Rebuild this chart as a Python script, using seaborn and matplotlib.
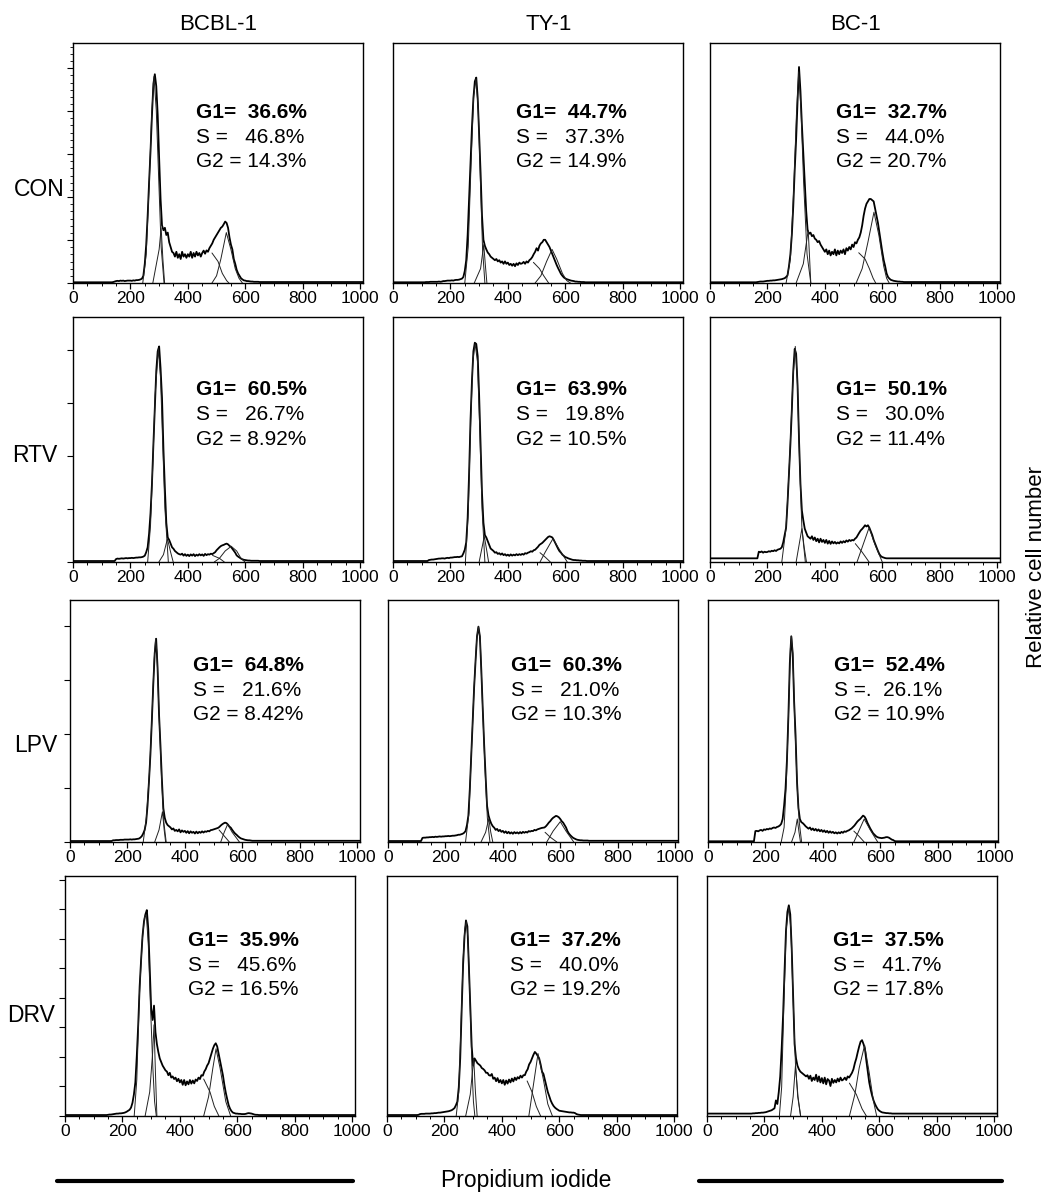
import matplotlib
matplotlib.use("Agg")
import matplotlib.pyplot as plt
import pandas as pd
import seaborn as sns
from matplotlib.ticker import MultipleLocator, NullLocator
from matplotlib.lines import Line2D

# ---------------- data ----------------
CELL_LINES = ["BCBL-1", "TY-1", "BC-1"]
TREATMENTS = ["CON", "RTV", "LPV", "DRV"]
CHANNELS = list(range(100, 705, 5))          # 121 channels, PI fluorescence
X_TICKS = [0, 200, 400, 600, 800, 1000]

G1_LABELS = ["36.6%", "44.7%", "32.7%", "60.5%", "63.9%", "50.1%",
             "64.8%", "60.3%", "52.4%", "35.9%", "37.2%", "37.5%"]
S_LABELS = ["46.8%", "37.3%", "44.0%", "26.7%", "19.8%", "30.0%",
            "21.6%", "21.0%", "26.1%", "45.6%", "40.0%", "41.7%"]
S_PREFIX = ["S =   "] * 8 + ["S =.  "] + ["S =   "] * 3
G2_LABELS = ["14.3%", "14.9%", "20.7%", "8.92%", "10.5%", "11.4%",
             "8.42%", "10.3%", "10.9%", "16.5%", "19.2%", "17.8%"]

# histograms (relative cell number, % of panel height), channels 100..700 step 5
HIST_CON_BCBL1 = [
    0.3, 0.3, 0.3, 0.3, 0.3, 0.3, 0.3, 0.3, 0.4, 0.6,
    0.8, 0.9, 0.8, 1.0, 0.9, 1.0, 0.8, 0.9, 1.0, 1.0,
    1.0, 0.9, 1.1, 1.0, 1.2, 1.2, 1.3, 1.5, 1.8, 3.0,
    8, 16, 28, 42, 55, 70, 83, 87, 82, 70,
    52, 35, 24, 22, 23, 20, 21, 17, 15, 13,
    12.5, 11, 13, 10.5, 12, 10, 13, 11, 12, 10.5,
    12, 11, 13, 10.5, 12.5, 11, 13, 11.5, 12.5, 11,
    12.5, 13.5, 12.2, 13.6, 13, 14.5, 15.5, 16.5, 18, 19,
    20, 21, 22, 23, 23.5, 24.5, 25.6, 25, 23, 19,
    16, 14, 10, 8, 5.5, 4, 3, 2, 1.5, 1.1,
    1.0, 0.8, 0.8, 0.7, 0.6, 0.6, 0.5, 0.5, 0.5, 0.5,
    0.4, 0.4, 0.4, 0.4, 0.4, 0.4, 0.4, 0.4, 0.4, 0.4,
    0.4]
HIST_CON_TY1 = [
    0.3, 0.3, 0.3, 0.4, 0.4, 0.4, 0.5, 0.5, 0.5, 0.5,
    0.5, 0.5, 0.6, 0.5, 0.6, 0.8, 0.8, 0.9, 1.0, 1.0,
    1.0, 1.1, 1.0, 1.2, 1.3, 1.3, 1.4, 1.6, 1.8, 2.5,
    5, 9.5, 20, 35, 50, 65, 77, 84, 85.6, 77,
    62, 46, 28, 18, 15.5, 14, 12.7, 12, 11, 10.5,
    10, 9.5, 10, 9, 9.5, 8.5, 9, 8, 9, 8,
    8.5, 7.5, 8, 7.2, 8, 7, 8.2, 7.5, 8.5, 8,
    8.2, 8.8, 8, 9, 8.5, 9.5, 10, 10.8, 12, 13,
    14.5, 13.5, 15.5, 16.5, 17, 18, 18, 17, 16, 15,
    13.5, 12, 10.5, 9, 7.5, 6.2, 5, 3.8, 3, 2.3,
    1.9, 1.6, 1.4, 1.2, 1.0, 0.9, 0.8, 0.6, 0.6, 0.5,
    0.5, 0.4, 0.4, 0.4, 0.3, 0.3, 0.3, 0.3, 0.3, 0.3,
    0.3]
HIST_CON_BC1 = [
    0.3, 0.3, 0.3, 0.3, 0.3, 0.3, 0.3, 0.3, 0.3, 0.3,
    0.3, 0.3, 0.3, 0.4, 0.5, 0.6, 0.6, 0.6, 0.7, 0.8,
    0.9, 0.9, 1.0, 1.0, 1.1, 1.1, 1.2, 1.3, 1.4, 1.5,
    1.6, 1.8, 2.0, 2.5, 3.2, 7, 12, 20, 32, 47,
    60, 76, 90, 80, 66, 54, 42, 30, 22, 20.5,
    21, 19.5, 20, 18.5, 18, 17, 17.5, 16, 15, 14,
    13, 14, 12, 13.5, 11.5, 13, 12, 14, 11.5, 13.5,
    12, 13.5, 12.5, 14, 12, 14.5, 13.5, 15, 14, 16,
    15, 17, 16.5, 18, 19, 21, 24, 28, 31, 33,
    34, 35, 35, 34.5, 34, 31, 28, 25, 21, 17,
    13, 9.5, 7, 4, 2.5, 1.8, 1.3, 1.1, 0.9, 0.8,
    0.7, 0.6, 0.6, 0.5, 0.5, 0.4, 0.4, 0.4, 0.4, 0.4,
    0.4]
HIST_RTV_BCBL1 = [
    0.4, 0.4, 0.4, 0.4, 0.4, 0.4, 0.4, 0.4, 0.4, 0.4,
    1.2, 1.4, 1.3, 1.4, 1.5, 1.4, 1.5, 1.6, 1.5, 1.6,
    1.6, 1.7, 1.6, 1.7, 1.8, 1.8, 1.9, 1.9, 2.0, 2.2,
    2.6, 4, 6, 11.6, 20, 32, 48, 63, 78, 86,
    88, 79, 67, 46, 30, 16, 10, 9, 7.5, 6,
    5.4, 4.5, 4, 3.5, 3.2, 3, 3.4, 2.6, 3.2, 2.5,
    3, 2.4, 3.1, 2.6, 3.2, 2.4, 3, 2.6, 3.2, 2.7,
    3.1, 2.5, 3.3, 2.8, 3.2, 3, 3.4, 3.2, 3.6, 4,
    4.8, 5.4, 6, 6.5, 6.8, 7, 7.3, 7.5, 7.2, 6.6,
    6.2, 5.4, 4.6, 3.8, 2.7, 2.2, 1.8, 1.4, 1.1, 0.9,
    0.8, 0.7, 0.6, 0.6, 0.5, 0.5, 0.5, 0.5, 0.5, 0.5,
    0.4, 0.4, 0.4, 0.4, 0.4, 0.4, 0.4, 0.4, 0.4, 0.4,
    0.4]
HIST_RTV_TY1 = [
    0.4, 0.4, 0.4, 0.4, 0.4, 0.8, 0.9, 1.0, 1.0, 1.1,
    1.2, 1.3, 1.4, 1.4, 1.5, 1.5, 1.4, 1.6, 1.7, 1.6,
    1.8, 1.8, 1.9, 2.0, 2.0, 2.1, 2.0, 2.2, 2.3, 3.5,
    5, 8, 18, 36, 58, 74, 86, 89.5, 89, 84,
    68, 48, 28, 16, 11, 10, 8.5, 7, 5.5, 5,
    4.5, 3.8, 4, 3.3, 3.6, 3, 3.5, 2.8, 3.2, 2.6,
    3, 2.5, 3.1, 2.6, 3, 2.7, 3.2, 2.8, 3.2, 2.9,
    3.3, 3, 3.6, 3.4, 3.8, 4, 4.4, 4.2, 4.8, 5,
    5.6, 6.2, 7, 7.4, 7.8, 8.4, 9, 9.6, 10.2, 10.5,
    10.3, 10, 9, 7.8, 6.6, 5.4, 4.4, 3.8, 3, 2.5,
    2.0, 1.8, 1.5, 1.3, 1.1, 0.9, 0.8, 0.8, 0.7, 0.7,
    0.6, 0.6, 0.5, 0.5, 0.5, 0.4, 0.4, 0.4, 0.4, 0.4,
    0.4]
HIST_RTV_BC1 = [
    1.5, 1.5, 1.5, 1.5, 1.5, 1.5, 1.5, 1.5, 1.5, 1.5,
    1.5, 1.5, 1.5, 1.5, 4.2, 4, 4.3, 3.8, 4.2, 4,
    4.1, 4.4, 4.2, 4.6, 4.4, 4.8, 4.5, 5, 5.2, 5.4,
    6, 8, 11, 14, 24, 36, 48, 62, 78, 87,
    85, 72, 50, 32, 21, 17, 13.6, 12, 10.5, 10,
    9.5, 10.5, 9, 10, 8.5, 9.5, 8, 9.5, 8.2, 9,
    7.8, 9, 7.5, 8.6, 7.4, 8.4, 7.6, 8.2, 7.5, 8,
    7.6, 8.4, 7.8, 8.5, 8, 8.8, 8.3, 9, 8.6, 9,
    8.8, 9.5, 10, 11, 12, 12.9, 13.5, 14.2, 15, 14.5,
    15, 14, 12.5, 11, 9, 7.5, 6, 4.5, 3.2, 2.4,
    2, 1.8, 1.6, 1.5, 1.5, 1.5, 1.5, 1.5, 1.5, 1.5,
    1.5, 1.5, 1.5, 1.5, 1.5, 1.5, 1.5, 1.5, 1.5, 1.5,
    1.5]
HIST_LPV_BCBL1 = [
    0.4, 0.4, 0.4, 0.4, 0.4, 0.4, 0.4, 0.4, 0.4, 0.4,
    0.7, 0.7, 0.8, 0.8, 0.8, 0.9, 0.9, 0.9, 1.0, 1.0,
    1.0, 1.0, 1.1, 1.0, 1.1, 1.1, 1.2, 1.3, 1.4, 1.8,
    2.4, 3.5, 5, 8, 15, 25, 36, 50, 65, 78,
    84, 72, 53, 40, 26, 14, 10, 8, 7, 6.5,
    6, 5.2, 5.6, 4.6, 5, 4.4, 5.2, 4, 4.8, 4.2,
    4.6, 3.8, 4.5, 3.6, 4.4, 3.8, 4.2, 3.5, 4.3, 3.6,
    4.2, 3.8, 4.4, 3.9, 4.4, 4.2, 4.6, 4.4, 4.9, 5.0,
    5.2, 5.4, 5.6, 5.8, 6.2, 6.8, 7.3, 7.7, 8, 7.8,
    7.2, 6.4, 5.9, 5, 4.2, 3.5, 3, 2.4, 1.9, 1.5,
    1.3, 1.1, 0.9, 0.8, 0.7, 0.7, 0.6, 0.5, 0.5, 0.5,
    0.5, 0.5, 0.5, 0.5, 0.5, 0.5, 0.5, 0.5, 0.5, 0.5,
    0.5]
HIST_LPV_TY1 = [
    0.4, 0.4, 0.4, 0.4, 1.7, 1.8, 1.8, 1.9, 1.9, 2.0,
    2.0, 2.1, 2.0, 2.2, 2.1, 2.2, 2.3, 2.2, 2.3, 2.3,
    2.4, 2.4, 2.5, 2.4, 2.5, 2.6, 2.6, 2.7, 2.8, 3.0,
    3, 3.2, 3.4, 3.8, 4.5, 7, 11, 22, 36, 50,
    64, 75, 85, 89, 85, 71, 55, 40, 27, 15,
    11, 9, 7.5, 6.5, 5.9, 5, 5.4, 4.5, 5, 4.2,
    4.6, 3.8, 4.4, 3.6, 4.2, 3.5, 4, 3.4, 4.1, 3.6,
    4, 3.5, 4.1, 3.6, 4.2, 3.8, 4.2, 3.9, 4.5, 4.3,
    4.6, 4.5, 5, 4.8, 5.2, 5.4, 5.6, 5.8, 5.9, 6,
    6.5, 7.2, 8, 8.6, 9.4, 10, 10.4, 10.8, 10.6, 10.2,
    9.5, 8.6, 8, 7, 6, 4.5, 3.5, 2.8, 2.2, 1.7,
    1.4, 1.1, 0.9, 0.8, 0.7, 0.7, 0.6, 0.6, 0.6, 0.6,
    0.5]
HIST_LPV_BC1 = [
    0.3, 0.3, 0.3, 0.3, 0.3, 0.3, 0.3, 0.3, 0.3, 0.3,
    0.3, 0.3, 0.3, 4.5, 4.6, 4.4, 4.8, 5, 4.6, 5.2,
    5, 5.4, 5.2, 5.6, 5.4, 5.8, 6, 5.8, 6.2, 6.4,
    6.8, 7.5, 9.5, 15, 22, 34, 52, 74, 85, 78,
    58, 44, 25, 14, 9.5, 8.2, 7.8, 7.2, 6.5, 6,
    5.5, 6, 5, 5.6, 4.8, 5.4, 4.6, 5.2, 4.4, 5,
    4.2, 4.8, 4, 4.6, 3.8, 4.4, 3.8, 4.2, 3.6, 4,
    3.5, 4, 3.6, 4.2, 3.8, 4.4, 4.2, 4.6, 4.8, 5.2,
    5.6, 6.2, 6.8, 7.6, 8.4, 9, 9.5, 10.2, 10.9, 10.5,
    9.5, 8, 6.8, 5.6, 4.6, 3.6, 3, 2.4, 2, 1.8,
    1.7, 1.6, 1.7, 1.8, 2, 2, 1.8, 1.4, 1, 0.8,
    0.4, 0.3, 0.3, 0.3, 0.3, 0.3, 0.3, 0.3, 0.3, 0.3,
    0.3]
HIST_DRV_BCBL1 = [
    0.4, 0.4, 0.4, 0.4, 0.4, 0.4, 0.4, 0.4, 0.4, 0.4,
    0.5, 0.6, 0.6, 0.7, 0.8, 0.9, 1.0, 1.0, 1.1, 1.1,
    1.2, 1.3, 1.5, 1.8, 2.2, 2.6, 3.5, 5.5, 9, 14,
    25, 38, 54, 65, 75, 81, 84, 85.8, 78, 62,
    45, 40, 46, 35, 30, 26.7, 24, 22.5, 21, 20,
    19, 18.5, 17, 18, 16, 16.5, 15.4, 16, 14.5, 15.5,
    14, 15, 13, 15, 12.8, 14.4, 13.2, 15, 13.5, 14.8,
    13.6, 15.2, 14.6, 16, 15.4, 17, 16.8, 18.5, 19.5, 21,
    22, 24, 26, 28, 29.5, 30.3, 29, 26, 23, 20,
    17, 13, 9.7, 7, 4.5, 3, 2, 1.4, 1.2, 1,
    1, 0.9, 0.9, 0.8, 0.8, 0.8, 0.9, 1.1, 1.2, 1.1,
    1.0, 0.8, 0.6, 0.5, 0.5, 0.4, 0.4, 0.4, 0.4, 0.4,
    0.4]
HIST_DRV_TY1 = [
    0.4, 0.4, 0.5, 0.8, 0.9, 0.9, 0.9, 1.0, 1.0, 1.0,
    1.0, 1.1, 1.1, 1.2, 1.2, 1.3, 1.4, 1.4, 1.5, 1.6,
    1.7, 1.8, 1.9, 2.0, 2.2, 2.4, 2.8, 3.3, 4.5, 6,
    12, 24, 44, 63, 75, 81.5, 79, 63, 46, 29,
    21, 24, 23, 22, 21.5, 21, 20, 19.6, 19, 18,
    18, 17, 16.8, 17.5, 15.5, 16, 14.5, 15.8, 14, 15,
    13.6, 15, 13, 14.8, 13.5, 15.2, 14, 15.6, 14.4, 16,
    15, 16.2, 15.6, 16.8, 16, 17, 17, 18.5, 19.5, 21.5,
    22.5, 24, 25.5, 26.7, 26, 25, 24, 21.5, 18.5, 17.5,
    15, 12.5, 10, 8.3, 6.5, 5.2, 4.2, 3.5, 3, 2.6,
    2.2, 2.1, 2, 1.9, 1.8, 1.7, 1.6, 1.5, 1.5, 1.4,
    1.4, 1.2, 0.8, 0.6, 0.5, 0.4, 0.4, 0.4, 0.4, 0.4,
    0.4]
HIST_DRV_BC1 = [
    1.0, 1.0, 1.0, 1.0, 1.0, 1.0, 1.0, 1.0, 1.0, 1.0,
    1.0, 1.0, 1.1, 1.1, 1.2, 1.2, 1.3, 1.3, 1.4, 1.4,
    1.5, 1.6, 1.8, 2.0, 2.2, 2.4, 2.8, 3.2, 6.5, 5,
    10, 16.5, 28, 42, 60, 77, 85, 87.8, 84, 70,
    50, 30, 24, 21, 19.5, 18.5, 18, 17.5, 17, 16.5,
    17, 15.5, 16.8, 14.6, 16, 15, 17.2, 14.4, 16.5, 14,
    15.8, 13.6, 16, 13.2, 15.4, 14.8, 12.5, 15.5, 13.8, 15,
    14, 15.6, 14.4, 16, 14.8, 15.2, 16, 15, 16.5, 16,
    17, 18, 19.5, 22, 24, 26.6, 29, 31, 31.6, 30,
    28, 23, 18.5, 14, 11, 8.5, 6.5, 5, 3.8, 2.8,
    2.2, 1.8, 1.5, 1.4, 1.3, 1.2, 1.2, 1.1, 1.1, 1.0,
    1.0, 1.0, 1.0, 1.0, 1.0, 1.0, 1.0, 1.0, 1.0, 1.0,
    1.0]

# fitted components: G1 peak, S-phase edges, G2 peak
FIT_CON_BCBL1 = [
    [(243, 0), (255, 12), (265, 40), (274, 70), (282, 86), (290, 72), (298, 45), (307, 15), (317, 0)],
    [(278, 0), (300, 14), (307, 23), (313, 10), (319, 0)],
    [(484, 12.5), (505, 9), (520, 4), (535, 1), (543, 0)],
    [(484, 0), (500, 3), (515, 10), (534, 21), (550, 14), (565, 6), (578, 2), (590, 0)]]
FIT_CON_TY1 = [
    [(250, 0), (262, 15), (272, 50), (281, 78), (289, 85), (297, 72), (305, 40), (312, 14), (320, 0)],
    [(283, 0), (305, 6), (316, 16), (322, 7), (327, 0)],
    [(489, 8.6), (510, 6), (525, 3), (542, 0)],
    [(495, 0), (515, 3), (535, 9), (554, 14), (570, 10), (590, 4), (605, 1), (618, 0)]]
FIT_CON_BC1 = [
    [(265, 0), (280, 10), (292, 40), (301, 70), (309, 88), (317, 72), (326, 42), (338, 12), (351, 0)],
    [(300, 0), (325, 8), (342, 22), (347, 10), (351, 0)],
    [(518, 12.6), (540, 10), (555, 6), (568, 2), (577, 0)],
    [(509, 0), (530, 6), (550, 17), (571, 29.5), (588, 20), (605, 7), (615, 2), (624, 0)]]
FIT_RTV_BCBL1 = [
    [(260, 0), (270, 15), (278, 40), (286, 68), (297, 87), (305, 75), (312, 50), (320, 22), (332, 0)],
    [(299, 0), (315, 3), (329, 9.5), (340, 4), (349, 0)],
    [(486, 2.7), (510, 1.5), (527, 0)],
    [(492, 0), (510, 1.5), (530, 4.5), (551, 6.4), (570, 4.5), (585, 1.5), (599, 0)]]
FIT_RTV_TY1 = [
    [(252, 0), (262, 20), (270, 55), (278, 82), (286, 89), (294, 82), (302, 55), (310, 22), (320, 0)],
    [(300, 0), (318, 10.5), (326, 5), (333, 0)],
    [(512, 3.8), (530, 2), (548, 0)],
    [(512, 0), (530, 4), (557, 9.5), (580, 5), (607, 0)]]
FIT_RTV_BC1 = [
    [(250, 0), (265, 14), (277, 41), (289, 75), (297, 88), (304, 75), (312, 41), (320, 14), (332, 0)],
    [(300, 0), (320, 13.6), (328, 6), (336, 0)],
    [(506, 7.5), (530, 4), (554, 0)],
    [(512, 0), (530, 6), (554, 14), (575, 7), (600, 0)]]
FIT_LPV_BCBL1 = [
    [(255, 0), (266, 10), (277, 29), (286, 53), (293, 75), (298, 84), (303, 78), (310, 53), (319, 26), (327, 8), (335, 0)],
    [(295, 0), (310, 5), (322, 12.5), (328, 5), (333, 0)],
    [(519, 5), (537, 2.5), (555, 0)],
    [(525, 0), (537, 4), (549, 7.3), (565, 4), (590, 0)]]
FIT_LPV_TY1 = [
    [(270, 0), (282, 12), (290, 36), (300, 64), (309, 84), (315, 89), (321, 84), (329, 57), (338, 30), (346, 10), (355, 0)],
    [(324, 0), (340, 4), (351, 9.7), (358, 4), (365, 0)],
    [(547, 4), (565, 2), (588, 0)],
    [(553, 0), (575, 4.5), (600, 8.4), (620, 4.5), (647, 0)]]
FIT_LPV_BC1 = [
    [(255, 0), (265, 6), (273, 25), (281, 55), (287, 80), (291, 85), (296, 76), (302, 50), (311, 22), (318, 8), (326, 0)],
    [(291, 0), (303, 4), (311, 9.5), (317, 4), (322, 0)],
    [(508, 4.5), (525, 2.5), (544, 0)],
    [(508, 0), (525, 4.5), (544, 9.5), (565, 5), (591, 0)]]
FIT_DRV_BCBL1 = [
    [(241, 0), (250, 15), (259, 50), (269, 73), (277, 83), (283, 84), (290, 72), (298, 45), (306, 20), (312, 6), (318, 0)],
    [(279, 0), (295, 10), (305, 26), (310, 38), (315, 18), (320, 0)],
    [(483, 15.4), (505, 10), (520, 4), (536, 0)],
    [(483, 0), (500, 8), (515, 20), (526, 28), (540, 20), (560, 6), (577, 0)]]
FIT_DRV_TY1 = [
    [(241, 0), (250, 10), (257, 35), (265, 65), (271, 78), (276, 81), (282, 74), (289, 48), (296, 20), (301, 6), (306, 0)],
    [(274, 0), (290, 9), (302, 24), (308, 10), (314, 0)],
    [(488, 14.6), (505, 10), (520, 4), (535, 0)],
    [(494, 0), (510, 13), (526, 26), (545, 15), (560, 5), (576, 0)]]
FIT_DRV_BC1 = [
    [(252, 0), (260, 12), (268, 48), (276, 78), (285, 87), (292, 78), (300, 48), (308, 22), (316, 8), (326, 0)],
    [(291, 0), (300, 8), (308, 20.9), (317, 8), (326, 0)],
    [(496, 13.7), (520, 9), (540, 3), (555, 0)],
    [(496, 0), (515, 9), (530, 20), (549, 29.5), (565, 18), (580, 6), (591, 0)]]

HISTS = [HIST_CON_BCBL1, HIST_CON_TY1, HIST_CON_BC1,
         HIST_RTV_BCBL1, HIST_RTV_TY1, HIST_RTV_BC1,
         HIST_LPV_BCBL1, HIST_LPV_TY1, HIST_LPV_BC1,
         HIST_DRV_BCBL1, HIST_DRV_TY1, HIST_DRV_BC1]
FITS = [FIT_CON_BCBL1, FIT_CON_TY1, FIT_CON_BC1,
        FIT_RTV_BCBL1, FIT_RTV_TY1, FIT_RTV_BC1,
        FIT_LPV_BCBL1, FIT_LPV_TY1, FIT_LPV_BC1,
        FIT_DRV_BCBL1, FIT_DRV_TY1, FIT_DRV_BC1]

# ---------------- layout (pixels) ----------------
W, H = 1053, 1194
ROW_TOP = [43, 317, 600, 876]
ROW_BOT = [283, 562, 842, 1116]
ROW_LEFTS = [[73, 393, 710], [73, 393, 710], [70, 388, 708], [65, 387, 707]]
PANEL_W = 290
YTICK_STEP = [17.9, 21.6, 22.3, 12.3]
TEXT_Y = [71, 70.5, 73, 73]
ROW_LABEL_POS = [(65, 190), (57, 455), (57, 745), (55, 1015)]
TITLE_X = [218, 549, 855]

sns.set_style("ticks")
plt.rcParams['font.family'] = ['Liberation Sans', 'DejaVu Sans']
plt.rcParams['text.color'] = 'black'
plt.rcParams['axes.labelcolor'] = 'black'
plt.rcParams['xtick.color'] = 'black'
plt.rcParams['ytick.color'] = 'black'

fig = plt.figure(figsize=(W / 100, H / 100), dpi=100)


def fx(px):
    return px / W


def fy(py):
    return 1 - py / H


for i, (hist, fit) in enumerate(zip(HISTS, FITS)):
    r, c = divmod(i, 3)
    assert len(hist) == len(CHANNELS), (i, len(hist))
    left = ROW_LEFTS[r][c]
    ax = fig.add_axes([fx(left), fy(ROW_BOT[r]), PANEL_W / W, (ROW_BOT[r] - ROW_TOP[r]) / H])
    df = pd.DataFrame({"ch": [0] + CHANNELS + [1010],
                       "n": [hist[0]] + hist + [hist[-1]]})
    sns.lineplot(data=df, x="ch", y="n", ax=ax, color="black", linewidth=1.3,
                 estimator=None, sort=False, legend=False)
    for comp in fit:
        cdf = pd.DataFrame(comp, columns=["ch", "n"])
        sns.lineplot(data=cdf, x="ch", y="n", ax=ax, color="#222222", linewidth=0.7,
                     estimator=None, sort=False, legend=False)
    ax.set_xlim(0, 1010)
    ax.set_ylim(0, 100)
    ax.set_xlabel("")
    ax.set_ylabel("")
    ax.set_xticks(X_TICKS)
    ax.set_xticklabels([str(t) for t in X_TICKS])
    ax.xaxis.set_minor_locator(MultipleLocator(50))
    ax.tick_params(axis="x", which="major", direction="out", length=4, width=0.9,
                   labelsize=12.5, pad=2, colors="black")
    ax.tick_params(axis="x", which="minor", direction="out", length=2.2, width=0.7)
    if c == 0:
        ax.yaxis.set_major_locator(MultipleLocator(YTICK_STEP[r]))
        if r == 0:
            ax.yaxis.set_minor_locator(MultipleLocator(YTICK_STEP[r] / 6))
        else:
            ax.yaxis.set_minor_locator(NullLocator())
        ax.set_yticklabels([])
        ax.tick_params(axis="y", which="major", direction="out", length=4, width=0.8)
        ax.tick_params(axis="y", which="minor", direction="out", length=2, width=0.6)
    else:
        ax.set_yticks([])
    for sp in ax.spines.values():
        sp.set_visible(True)
        sp.set_linewidth(1.0)
        sp.set_color("black")
    tx = 440 if c == 2 else 430
    ty = TEXT_Y[r]
    ax.text(tx, ty, "G1=  " + G1_LABELS[i], fontsize=15, fontweight="bold",
            va="center", ha="left", color="black")
    ax.text(tx, ty - 10.2, S_PREFIX[i] + S_LABELS[i], fontsize=15, va="center",
            ha="left", color="black")
    ax.text(tx, ty - 20.4, "G2 = " + G2_LABELS[i], fontsize=15, va="center",
            ha="left", color="black")

for name, x in zip(CELL_LINES, TITLE_X):
    fig.text(fx(x), fy(24), name, fontsize=16, ha="center", va="center", color="black")
for name, (x, y) in zip(TREATMENTS, ROW_LABEL_POS):
    fig.text(fx(x), fy(y), name, fontsize=16.5, ha="right", va="center", color="black")

fig.text(fx(526), fy(1181), "Propidium iodide", fontsize=16.5, ha="center",
         va="center", color="black")
fig.text(fx(1036), fy(567), "Relative cell number", fontsize=16, ha="center",
         va="center", rotation=90, color="black")
fig.add_artist(Line2D([fx(57), fx(353)], [fy(1181), fy(1181)], color="black", linewidth=3))
fig.add_artist(Line2D([fx(699), fx(1002)], [fy(1181), fy(1181)], color="black", linewidth=3))

fig.savefig("out.png", dpi=100)
